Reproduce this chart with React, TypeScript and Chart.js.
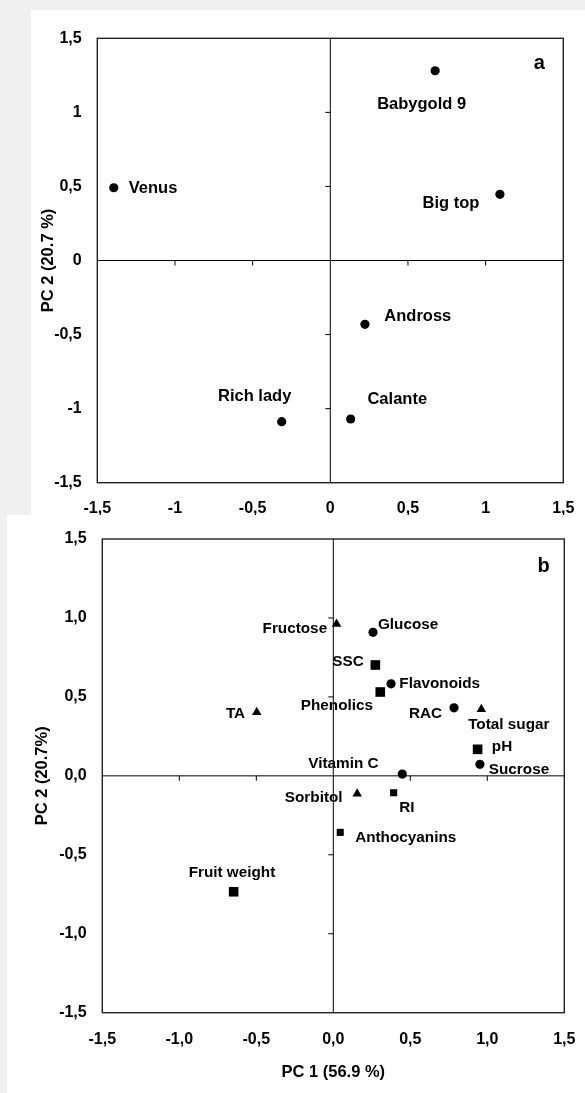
import React, { useEffect, useRef } from 'react';
import { Chart, registerables } from 'chart.js';

Chart.register(...registerables);

// ---------- data ----------
const tickValues = [-1.5, -1, -0.5, 0, 0.5, 1, 1.5];
const tickLabelsA = ['-1,5', '-1', '-0,5', '0', '0,5', '1', '1,5'];
const tickLabelsB = ['-1,5', '-1,0', '-0,5', '0,0', '0,5', '1,0', '1,5'];

const cultivars = ['Babygold 9', 'Venus', 'Big top', 'Andross', 'Calante', 'Rich lady'];
const cultivarPC1 = [0.675, -1.394, 1.092, 0.223, 0.131, -0.313];
const cultivarPC2 = [1.281, 0.491, 0.447, -0.431, -1.07, -1.088];

const variables = [
  'Fructose', 'Glucose', 'SSC', 'Flavonoids', 'Phenolics', 'TA', 'RAC', 'Total sugar',
  'pH', 'Sucrose', 'Vitamin C', 'Sorbitol', 'RI', 'Anthocyanins', 'Fruit weight',
];
const variablePC1 = [0.021, 0.258, 0.273, 0.375, 0.305, -0.497, 0.784, 0.961, 0.937, 0.952, 0.448, 0.155, 0.392, 0.045, -0.647];
const variablePC2 = [0.961, 0.909, 0.702, 0.583, 0.531, 0.402, 0.431, 0.422, 0.168, 0.073, 0.011, -0.113, -0.107, -0.358, -0.734];

// ---------- styles (marker kind and label placement) ----------
type Marker = 'dot' | 'tri' | 'sq' | 'sqS';
type Align = 'left' | 'right' | 'center';

const cultivarMarker: Marker[] = ['dot', 'dot', 'dot', 'dot', 'dot', 'dot'];
const cultivarLabelPos: [number, number, Align][] = [
  [-13.5, 34, 'center'],
  [15, 0.8, 'left'],
  [-20.5, 9.5, 'right'],
  [19.4, -7.8, 'left'],
  [16.8, -19.8, 'left'],
  [-27, -25, 'center'],
];

const variableMarker: Marker[] = ['tri', 'dot', 'sq', 'dot', 'sq', 'tri', 'dot', 'tri', 'sq', 'dot', 'dot', 'tri', 'sqS', 'sqS', 'sq'];
const variableLabelPos: [number, number, Align][] = [
  [-9.4, 4.7, 'right'],
  [4.9, -7.5, 'left'],
  [-11.6, -2.8, 'right'],
  [8.3, -0.5, 'left'],
  [-43.4, 13.8, 'center'],
  [-11.6, 1.5, 'right'],
  [-11.9, 6.1, 'right'],
  [27.5, 16, 'center'],
  [14.2, -2.5, 'left'],
  [8.9, 5.5, 'left'],
  [-58.9, -10.2, 'center'],
  [-14.6, 4.5, 'right'],
  [5.6, 15.5, 'left'],
  [14.9, 5.8, 'left'],
  [-1.7, -18.6, 'center'],
];

const FAMILY = "'Liberation Sans', Arial, Helvetica, sans-serif";

interface PcaProps {
  names: string[];
  pc1: number[];
  pc2: number[];
  markers: Marker[];
  offsets: [number, number, Align][];
  tickLabels: string[];
  yTitle: string;
  xTitle?: string;
  letter: string;
  letterPos: [number, number];
  w: number;
  h: number;
  area: { left: number; top: number; right: number; bottom: number };
  tickPadX: number;
  tickPadY: number;
  yTitlePad: number;
  xTitlePad: number;
  labelFont: number;
}

function PcaChart(p: PcaProps) {
  const ref = useRef<HTMLCanvasElement>(null);

  useEffect(() => {
    const canvas = ref.current;
    if (!canvas) return;
    const radius: Record<Marker, number> = { dot: 4.6, tri: 5.5, sq: 6.8, sqS: 5 };
    const shape: Record<Marker, string> = { dot: 'circle', tri: 'triangle', sq: 'rect', sqS: 'rect' };

    const fmt = (labels: string[]) => (value: any) => {
      const i = tickValues.findIndex((t) => Math.abs(t - Number(value)) < 1e-9);
      return i >= 0 ? labels[i] : '';
    };

    const decor = {
      id: 'pcaDecor',
      beforeDatasetsDraw(chart: any) {
        const { ctx, chartArea: ca, scales } = chart;
        const xs = scales.x;
        const ys = scales.y;
        const x0 = xs.getPixelForValue(0);
        const y0 = ys.getPixelForValue(0);
        ctx.save();
        ctx.strokeStyle = '#000';
        ctx.lineWidth = 1;
        ctx.beginPath();
        ctx.moveTo(x0, ca.top);
        ctx.lineTo(x0, ca.bottom);
        ctx.moveTo(ca.left, y0);
        ctx.lineTo(ca.right, y0);
        tickValues.forEach((v) => {
          if (v === 0 || Math.abs(v) === 1.5) return;
          const py = ys.getPixelForValue(v);
          ctx.moveTo(x0 - 5, py);
          ctx.lineTo(x0, py);
          const px = xs.getPixelForValue(v);
          ctx.moveTo(px, y0);
          ctx.lineTo(px, y0 + 5);
        });
        ctx.stroke();
        ctx.lineWidth = 1.4;
        ctx.strokeStyle = '#222';
        ctx.strokeRect(ca.left, ca.top, ca.right - ca.left, ca.bottom - ca.top);
        ctx.restore();
      },
      afterDatasetsDraw(chart: any) {
        const { ctx, chartArea: ca, scales } = chart;
        ctx.save();
        ctx.fillStyle = '#000';
        ctx.textBaseline = 'middle';
        ctx.font = `bold ${p.labelFont}px ${FAMILY}`;
        p.names.forEach((n, i) => {
          const [dx, dy, al] = p.offsets[i];
          ctx.textAlign = al;
          ctx.fillText(n, scales.x.getPixelForValue(p.pc1[i]) + dx, scales.y.getPixelForValue(p.pc2[i]) + dy);
        });
        ctx.font = `bold 20px ${FAMILY}`;
        ctx.textAlign = 'center';
        ctx.fillText(p.letter, ca.right + p.letterPos[0], ca.top + p.letterPos[1]);
        ctx.restore();
      },
    };

    const yAxisWidth = p.area.left;
    const xAxisHeight = p.h - p.area.bottom;

    const chart = new Chart(canvas, {
      type: 'scatter',
      data: {
        datasets: [
          {
            data: p.pc1.map((x, i) => ({ x, y: p.pc2[i] })),
            pointStyle: p.markers.map((m) => shape[m]) as any,
            pointRadius: p.markers.map((m) => radius[m]),
            pointHoverRadius: p.markers.map((m) => radius[m]),
            backgroundColor: '#000',
            borderColor: '#000',
            borderWidth: 0,
            clip: false as any,
          },
        ],
      },
      options: {
        responsive: false,
        animation: false,
        devicePixelRatio: 1,
        events: [],
        layout: { padding: { top: p.area.top, right: p.w - p.area.right, left: 0, bottom: 0 } },
        plugins: { legend: { display: false }, tooltip: { enabled: false } },
        scales: {
          x: {
            type: 'linear',
            position: 'bottom',
            min: -1.5,
            max: 1.5,
            grid: { display: false, drawTicks: false },
            border: { display: false },
            ticks: {
              stepSize: 0.5,
              autoSkip: false,
              maxRotation: 0,
              padding: p.tickPadX,
              color: '#000',
              font: { family: FAMILY, size: 16, weight: 'bold' },
              callback: fmt(p.tickLabels),
            },
            title: {
              display: !!p.xTitle,
              text: p.xTitle || '',
              color: '#000',
              font: { family: FAMILY, size: 16.5, weight: 'bold' },
              padding: { top: 0, bottom: p.xTitlePad },
            },
            afterFit: (s: any) => {
              s.height = xAxisHeight;
              s.paddingLeft = 0;
              s.paddingRight = 0;
              s.paddingTop = 0;
              s.paddingBottom = 0;
            },
          },
          y: {
            type: 'linear',
            position: 'left',
            min: -1.5,
            max: 1.5,
            grid: { display: false, drawTicks: false },
            border: { display: false },
            ticks: {
              stepSize: 0.5,
              autoSkip: false,
              padding: p.tickPadY,
              color: '#000',
              font: { family: FAMILY, size: 16, weight: 'bold' },
              callback: fmt(p.tickLabels),
            },
            title: {
              display: true,
              text: p.yTitle,
              color: '#000',
              font: { family: FAMILY, size: 16.5, weight: 'bold' },
              padding: { top: p.yTitlePad, bottom: 0 },
            },
            afterFit: (s: any) => {
              s.width = yAxisWidth;
              s.paddingLeft = 0;
              s.paddingRight = 0;
              s.paddingTop = 0;
              s.paddingBottom = 0;
            },
          },
        },
      } as any,
      plugins: [decor],
    });
    return () => chart.destroy();
  }, []);

  return <canvas ref={ref} width={p.w} height={p.h} style={{ display: 'block', width: p.w, height: p.h }} />;
}

export default function App() {
  return (
    <div
      style={{
        position: 'absolute',
        left: 0,
        top: 0,
        width: 585,
        height: 1093,
        background: '#f0f0f0',
        overflow: 'hidden',
      }}
    >
      <div style={{ position: 'absolute', left: 31, top: 10, width: 554, height: 505, background: '#fff' }}>
        <PcaChart
          names={cultivars}
          pc1={cultivarPC1}
          pc2={cultivarPC2}
          markers={cultivarMarker}
          offsets={cultivarLabelPos}
          tickLabels={tickLabelsA}
          yTitle="PC 2 (20.7 %)"
          letter="a"
          letterPos={[-24.1, 25.2]}
          w={554}
          h={505}
          area={{ left: 66.3, top: 28.3, right: 532.3, bottom: 472.7 }}
          tickPadX={16}
          tickPadY={15.6}
          yTitlePad={7.6}
          xTitlePad={0}
          labelFont={16.5}
        />
      </div>
      <div style={{ position: 'absolute', left: 7, top: 515, width: 578, height: 578, background: '#fff' }}>
        <PcaChart
          names={variables}
          pc1={variablePC1}
          pc2={variablePC2}
          markers={variableMarker}
          offsets={variableLabelPos}
          tickLabels={tickLabelsB}
          yTitle="PC 2 (20.7%)"
          xTitle="PC 1 (56.9 %)"
          letter="b"
          letterPos={[-20.6, 27.5]}
          w={578}
          h={578}
          area={{ left: 95.3, top: 24, right: 557.3, bottom: 497.7 }}
          tickPadX={17.3}
          tickPadY={15.6}
          yTitlePad={26}
          xTitlePad={10.4}
          labelFont={15.3}
        />
      </div>
    </div>
  );
}
